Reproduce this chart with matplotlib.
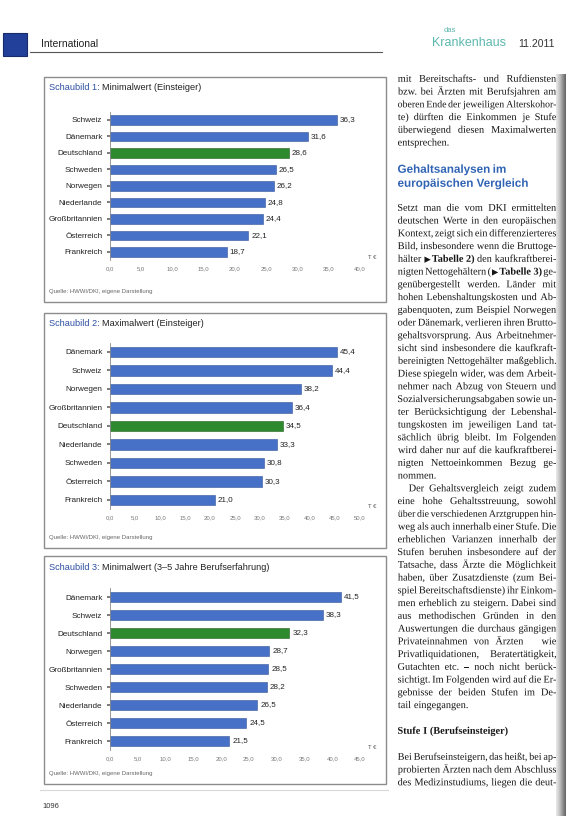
import numpy as np
import matplotlib
matplotlib.use("Agg")
import matplotlib.pyplot as plt
from matplotlib.patches import Rectangle, PathPatch
from matplotlib.lines import Line2D
from matplotlib.textpath import TextPath
from matplotlib.font_manager import FontProperties
from matplotlib.transforms import Affine2D

W, H = 566, 816
SANS = "Liberation Sans"
SERIF = "Liberation Serif"

# Schaubild 1: Minimalwert (Einsteiger), in T EUR
laender1 = ["Schweiz", "Dänemark", "Deutschland", "Schweden", "Norwegen",
            "Niederlande", "Großbritannien", "Österreich", "Frankreich"]
werte1 = [36.3, 31.6, 28.6, 26.5, 26.2, 24.8, 24.4, 22.1, 18.7]

# Schaubild 2: Maximalwert (Einsteiger)
laender2 = ["Dänemark", "Schweiz", "Norwegen", "Großbritannien", "Deutschland",
            "Niederlande", "Schweden", "Österreich", "Frankreich"]
werte2 = [45.4, 44.4, 38.2, 36.4, 34.5, 33.3, 30.8, 30.3, 21.0]

# Schaubild 3: Minimalwert (3-5 Jahre Berufserfahrung)
laender3 = ["Dänemark", "Schweiz", "Deutschland", "Norwegen", "Großbritannien",
            "Schweden", "Niederlande", "Österreich", "Frankreich"]
werte3 = [41.5, 38.3, 32.3, 28.7, 28.5, 28.2, 26.5, 24.5, 21.5]

titel = ["Minimalwert (Einsteiger)", "Maximalwert (Einsteiger)",
         "Minimalwert (3–5 Jahre Berufserfahrung)"]
achsen_max = [40, 50, 45]
quelle = "Quelle: HWWI/DKI, eigene Darstellung"

# Textspalte rechts (Zeilen wie im Satz)
absatz1 = ["mit Bereitschafts- und Rufdiensten",
           "bzw. bei Ärzten mit Berufsjahren am",
           "oberen Ende der jeweiligen Alterskohor-",
           "te) dürften die Einkommen je Stufe",
           "überwiegend diesen Maximalwerten",
           "entsprechen."]
ueberschrift = ["Gehaltsanalysen im", "europäischen Vergleich"]
absatz2 = ["Setzt man die vom DKI ermittelten",
           "deutschen Werte in den europäischen",
           "Kontext, zeigt sich ein differenzierteres",
           "Bild, insbesondere wenn die Bruttoge-",
           "hälter ▶ Tabelle\u00a02) den kaufkraftberei-",
           "nigten Nettogehältern (▶ Tabelle\u00a03) ge-",
           "genübergestellt werden. Länder mit",
           "hohen Lebenshaltungskosten und Ab-",
           "gabenquoten, zum Beispiel Norwegen",
           "oder Dänemark, verlieren ihren Brutto-",
           "gehaltsvorsprung. Aus Arbeitnehmer-",
           "sicht sind insbesondere die kaufkraft-",
           "bereinigten Nettogehälter maßgeblich.",
           "Diese spiegeln wider, was dem Arbeit-",
           "nehmer nach Abzug von Steuern und",
           "Sozialversicherungsabgaben sowie un-",
           "ter Berücksichtigung der Lebenshal-",
           "tungskosten im jeweiligen Land tat-",
           "sächlich übrig bleibt. Im Folgenden",
           "wird daher nur auf die kaufkraftberei-",
           "nigten Nettoeinkommen Bezug ge-",
           "nommen."]
absatz3 = ["Der Gehaltsvergleich zeigt zudem",
           "eine hohe Gehaltsstreuung, sowohl",
           "über die verschiedenen Arztgruppen hin-",
           "weg als auch innerhalb einer Stufe. Die",
           "erheblichen Varianzen innerhalb der",
           "Stufen beruhen insbesondere auf der",
           "Tatsache, dass Ärzte die Möglichkeit",
           "haben, über Zusatzdienste (zum Bei-",
           "spiel Bereitschaftsdienste) ihr Einkom-",
           "men erheblich zu steigern. Dabei sind",
           "aus methodischen Gründen in den",
           "Auswertungen die durchaus gängigen",
           "Privateinnahmen von Ärzten – wie",
           "Privatliquidationen, Beratertätigkeit,",
           "Gutachten etc. – noch nicht berück-",
           "sichtigt. Im Folgenden wird auf die Er-",
           "gebnisse der beiden Stufen im De-",
           "tail eingegangen."]
zwischentitel = "Stufe I (Berufseinsteiger)"
absatz4 = ["Bei Berufseinsteigern, das heißt, bei ap-",
           "probierten Ärzten nach dem Abschluss",
           "des Medizinstudiums, liegen die deut-"]


def fx(x):
    return x / W


def fy(y):
    return 1 - y / H


def de(v):
    return f"{v:.1f}".replace(".", ",")


fig = plt.figure(figsize=(W / 100, H / 100), dpi=100)
fig.patch.set_facecolor("white")
renderer = fig.canvas.get_renderer()

# ---- Kopfzeile
fig.patches.append(Rectangle((fx(3), fy(56)), 24 / W, 23 / H, transform=fig.transFigure,
                             fc="#22409a", ec="#182c6a", lw=0.8))
fig.text(fx(41), fy(44), "International", fontsize=7.5, family=SANS, color="#222",
         va="center")
fig.lines.append(Line2D([fx(30), fx(382)], [fy(52), fy(52)], transform=fig.transFigure,
                        color="#555", lw=0.8))
fig.text(fx(450), fy(31), "das", fontsize=5.5, family=SANS, color="#5cb8ae",
         ha="center", va="center")
fig.text(fx(469), fy(43), "Krankenhaus", fontsize=9, family=SANS, color="#5cb8ae",
         ha="center", va="center")
fig.text(fx(536), fy(44), "11.2011", fontsize=7.5, family=SANS, color="#333",
         ha="center", va="center")


def titelzeile(x, y, teile, size):
    for txt, col, wt in teile:
        t = fig.text(fx(x), fy(y), txt, fontsize=size, family=SANS, color=col,
                     weight=wt, va="center")
        x += t.get_window_extent(renderer).width


# ---- Schaubilder
boxen = [(44, 77, 386, 302), (44, 313, 386, 548), (44, 556, 386, 784)]
achsen = [(110, 111.75, 360, 260.25), (110, 342.75, 360, 509.25), (110, 588, 360, 750)]
daten = [(laender1, werte1), (laender2, werte2), (laender3, werte3)]

for k in range(3):
    bx0, by0, bx1, by1 = boxen[k]
    fig.patches.append(Rectangle((fx(bx0), fy(by1)), (bx1 - bx0) / W, (by1 - by0) / H,
                                 transform=fig.transFigure, fill=False,
                                 ec="#8c8c8c", lw=1.0))
    titelzeile(bx0 + 5, by0 + 11, [(f"Schaubild {k + 1}: ", "#2d4fa3", "normal"),
                                   (titel[k], "#222", "normal")], 6.6)
    fig.text(fx(bx0 + 5), fy(by1 - 10), quelle, fontsize=4.3, family=SANS,
             color="#666", va="center")

    laender, werte = daten[k]
    ax0, ay0, ax1, ay1 = achsen[k]
    ax = fig.add_axes([fx(ax0), fy(ay1), (ax1 - ax0) / W, (ay1 - ay0) / H])
    y = np.arange(len(werte))
    farben = ["#2e8a2e" if l == "Deutschland" else "#4671c6" for l in laender]
    kanten = ["#1f5f1f" if l == "Deutschland" else "#35559a" for l in laender]
    ax.barh(y, werte, height=0.56, color=farben, edgecolor=kanten, linewidth=0.4)
    for i, v in enumerate(werte):
        ax.text(v + achsen_max[k] * 0.012, i, de(v), va="center", ha="left",
                fontsize=5.8, family=SANS, color="#222")
    ax.set_xlim(0, achsen_max[k])
    ax.set_ylim(len(werte) - 0.5, -0.5)
    xt = np.arange(0, achsen_max[k] + 1, 5)
    ax.set_xticks(xt, [de(v) for v in xt], fontsize=4.3, family=SANS, color="#777")
    ax.set_yticks(y, laender, fontsize=5.9, family=SANS, color="#222")
    ax.tick_params(axis="x", length=0, pad=4.5)
    ax.tick_params(axis="y", length=2.5, width=1.2, color="#666", pad=3)
    for s in ["top", "right", "bottom"]:
        ax.spines[s].set_visible(False)
    ax.spines["left"].set_color("#888")
    ax.spines["left"].set_linewidth(0.6)
    ax.set_facecolor("none")
    ax.text(1.05, 0.0, "T €", transform=ax.transAxes, fontsize=4.3, family=SANS,
            color="#555", ha="center", va="bottom")

# ---- Textspalte: Wörter als Pfade, damit die Grundlinie exakt bleibt
SX0, SX1 = 398, 556
ZA = 12.75
GROESSE = 7.4


def wortpfad(w, size, fam, weight):
    px = size * 100 / 72
    if w == "▶":
        fp = FontProperties(family="DejaVu Sans")
        px *= 0.8
    else:
        fp = FontProperties(family=fam, weight="bold" if w.startswith("Tabelle") else weight)
    p = TextPath((0, 0), w, size=px, prop=fp)
    ext = p.get_extents()
    return p, ext.x0, ext.width


def zeile(y, text, blocksatz, einzug=0, size=GROESSE, weight="normal", fam=SERIF,
          col="#161616"):
    woerter = text.replace("(▶", "( ▶").split(" ")
    platz = SX1 - SX0 - einzug
    fest = [i for i, w in enumerate(woerter[:-1]) if w == "(" or w == "▶"]
    n_luecken = len(woerter) - 1 - len(fest)
    while True:
        teile = [wortpfad(w, size, fam, weight) for w in woerter]
        breiten = [t[2] for t in teile]
        eng = size * 100 / 72 * 0.12
        minluecke = size * 100 / 72 * 0.2
        if not blocksatz or n_luecken == 0 or size < 5 or \
                sum(breiten) + eng * len(fest) + minluecke * n_luecken <= platz:
            break
        size -= 0.1
    if blocksatz and n_luecken > 0:
        luecke = (platz - sum(breiten) - eng * len(fest)) / n_luecken
    else:
        luecke = size * 100 / 72 * 0.34
    x = SX0 + einzug
    grund = H - (y + 2.8)
    for i, (p, x0, b) in enumerate(teile):
        fig.add_artist(PathPatch(p, transform=Affine2D().translate(x - x0, grund),
                                 fc=col, ec="none", lw=0))
        x += b + (eng if i in fest else luecke)


def absatz(y, zeilen, einzug=0, offen=False):
    for i, z in enumerate(zeilen):
        letzte = i == len(zeilen) - 1 and not offen
        zeile(y + i * ZA, z, not letzte, einzug if i == 0 else 0)
    return y + len(zeilen) * ZA


absatz(79, absatz1)
for i, z in enumerate(ueberschrift):
    zeile(170 + i * 14, z, False, size=8.4, weight="bold", fam=SANS, col="#3063b4")
y = absatz(208, absatz2)
absatz(y, absatz3, einzug=11)
zeile(731, zwischentitel, False, weight="bold")
absatz(757, absatz4, offen=True)

# ---- Fuß und Rand
fig.text(fx(42), fy(806), "1096", fontsize=5.5, family=SANS, color="#333", va="center")
fig.lines.append(Line2D([fx(40), fx(388)], [fy(790), fy(790)], transform=fig.transFigure,
                        color="#d8d8d8", lw=0.8))
rand = fig.add_axes([fx(556), 0, 10 / W, fy(74)])
rand.imshow(np.linspace(0, 1, 50)[None, :], aspect="auto", cmap="Greys",
            vmin=-0.3, vmax=1.6, extent=(0, 1, 0, 1))
rand.axis("off")

fig.savefig("out.png", dpi=100, facecolor="white")
